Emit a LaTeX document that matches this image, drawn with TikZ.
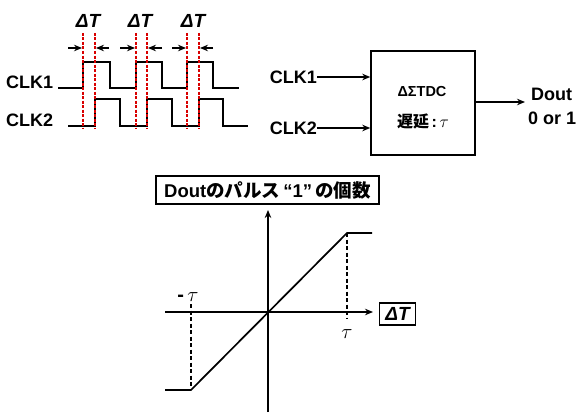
\documentclass[tikz,border=0pt]{standalone}
\usepackage{fontspec}
\setmainfont{Liberation Sans}
\newfontfamily\jpfont{Noto Sans CJK JP}
\usetikzlibrary{arrows.meta}
\tikzset{
  wave/.style={line width=1.7pt,line join=miter},
  rdash/.style={red!85!black,line width=1.3pt,dash pattern=on 3pt off 1.5pt},
  arr/.style={-{Stealth[length=8pt,width=6.5pt]},line width=1.4pt},
  lbl/.style={font=\fontsize{18}{20}\selectfont\bfseries,inner sep=0pt},
  dtl/.style={font=\fontsize{19}{20}\selectfont\bfseries\itshape,inner sep=0pt},
  tau/.style={font=\fontsize{20}{20}\selectfont,inner sep=0pt},
  boxed/.style={draw,line width=1.5pt,inner sep=0pt},
  gdash/.style={line width=1.3pt,dash pattern=on 4pt off 2.5pt},
}
\begin{document}
\begin{tikzpicture}[x=1pt,y=-1pt]
\useasboundingbox (0,0) rectangle (580,412);
% ---------- timing diagram ----------
\node[lbl,anchor=west] (clk1) at (6,82) {CLK1};
\node[lbl,anchor=west] (clk2) at (6,120) {CLK2};
\draw[wave] (58,88) -- (83,88) -- (83,62) -- (110,62) -- (110,88) -- (136,88) -- (136,62) -- (162,62) -- (162,88) -- (187,88) -- (187,62) -- (213,62) -- (213,88) -- (239,88);
\draw[wave] (68,126) -- (95,126) -- (95,99) -- (120,99) -- (120,126) -- (147,126) -- (147,99) -- (172,99) -- (172,126) -- (199,126) -- (199,99) -- (223,99) -- (223,126) -- (248,126);
\foreach \x in {83,95,136,147,187,199} \draw[rdash] (\x,33) -- (\x,129);
\foreach \a/\b/\c/\d [count=\i] in {68/82/109/96,120/135/162/148,172/186/213/200} {
  \coordinate (la\i) at (\a,48); \coordinate (lb\i) at (\b,48);
  \coordinate (ra\i) at (\c,48); \coordinate (rb\i) at (\d,48);
  \draw[arr] (la\i) -- (lb\i);
  \draw[arr] (ra\i) -- (rb\i);
}
\node[dtl] (dt1) at (88,21) {ΔT};
\node[dtl] (dt2) at (140,21) {ΔT};
\node[dtl] (dt3) at (193,21) {ΔT};
% ---------- block diagram ----------
\node[boxed,minimum width=104pt,minimum height=104pt] (tdc) at (423,103) {};
\node[font=\fontsize{14.5}{16}\selectfont\bfseries,inner sep=0pt] (tdcl) at (422,92) {ΔΣTDC};
\node[font=\fontsize{16}{18}\selectfont,inner sep=0pt] (dly) at (423,121) {{\jpfont\bfseries 遅延}\,{\bfseries :}\,{\fontsize{19}{20}\selectfont$\tau$}};
\node[lbl,anchor=east] (in1) at (317,77) {CLK1};
\node[lbl,anchor=east] (in2) at (317,128) {CLK2};
\draw[arr] (in1.east) -- (in1.east -| tdc.west);
\draw[arr] (in2.east) -- (in2.east -| tdc.west);
\coordinate (outend) at (525,102);
\draw[arr] (tdc.east |- outend) -- (outend);
\node[lbl,anchor=west,align=left] (dout) at (528,106) {\,Dout\\[4pt]0 or 1};
% ---------- transfer graph ----------
\coordinate (O) at (268,312);
\coordinate (ytop) at (268,210);
\coordinate (ybot) at (268,412);
\coordinate (xl) at (165,312);
\coordinate (xr) at (373,312);
\draw[arr,line width=1.5pt] (ybot) -- (ytop);
\draw[arr,line width=1.5pt] (xl) -- (xr);
\coordinate (p1) at (165,390);
\coordinate (p2) at (191,390);
\coordinate (p3) at (347,233);
\coordinate (p4) at (372,233);
\draw[wave] (p1) -- (p2) -- (p3) -- (p4);
\draw[gdash] (191,304) -- (p2);
\draw[gdash] (p3) -- (347,318);
\node[tau] (mtau) at (188,297) {\textbf{-}\,$\tau$};
\node[tau] (ptau) at (347,334) {$\tau$};
\node[boxed,font=\fontsize{18.5}{20}\selectfont\bfseries,inner xsep=3pt,minimum height=28pt,minimum width=223pt] (title) at (267.5,190) {Dout{\jpfont のパルス}\,“1”\,{\jpfont の個数}};
\node[boxed,dtl,minimum width=36pt,minimum height=22pt] (dtb) at (397.5,314) {ΔT};
\end{tikzpicture}
\end{document}
